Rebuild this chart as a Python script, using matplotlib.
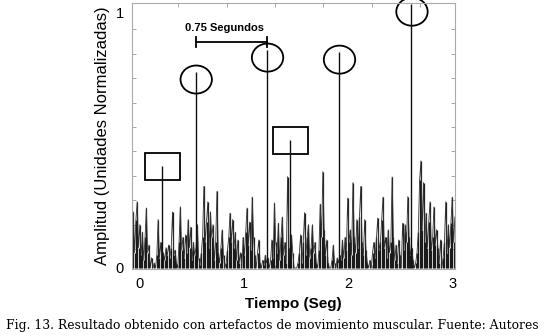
import numpy as np
import matplotlib
matplotlib.use('Agg')
import matplotlib.pyplot as plt
from matplotlib.patches import Ellipse, Rectangle

# muscle artefact noise, sampled every 0.0125 s starting at t0
t0 = -0.067
dt = 0.0125
noise = [
    0.04, 0.22, 0.06, 0.19, 0.26, 0.08, 0.17, 0.05, 0.14, 0.03,
    0.12, 0.235, 0.06, 0.09, 0.0, 0.04, 0.0, 0.02, 0.0, 0.05,
    0.19, 0.04, 0.10, 0.02, 0.06, 0.03, 0.08, 0.05, 0.09, 0.04,
    0.08, 0.22, 0.05, 0.07, 0.02, 0.0, 0.10, 0.24, 0.07, 0.12,
    0.04, 0.13, 0.06, 0.19, 0.08, 0.16, 0.03, 0.10, 0.05, 0.08,
    0.17, 0.04, 0.01, 0.06, 0.12, 0.32, 0.10, 0.18, 0.26, 0.08,
    0.22, 0.12, 0.17, 0.03, 0.10, 0.30, 0.06, 0.02, 0.08, 0.15,
    0.05, 0.0, 0.02, 0.07, 0.12, 0.215, 0.10, 0.19, 0.08, 0.14,
    0.03, 0.11, 0.02, 0.06, 0.0, 0.12, 0.05, 0.14, 0.235, 0.09,
    0.18, 0.07, 0.278, 0.12, 0.05, 0.0, 0.06, 0.11, 0.02, 0.0,
    0.03, 0.01, 0.05, 0.02, 0.04, 0.0, 0.03, 0.11, 0.04, 0.255,
    0.10, 0.06, 0.175, 0.03, 0.12, 0.20, 0.05, 0.10, 0.02, 0.358,
    0.08, 0.04, 0.13, 0.06, 0.0, 0.0, 0.0, 0.02, 0.06, 0.13,
    0.02, 0.10, 0.217, 0.05, 0.12, 0.17, 0.04, 0.08, 0.17, 0.06,
    0.10, 0.02, 0.0, 0.07, 0.25, 0.12, 0.378, 0.15, 0.05, 0.11,
    0.02, 0.0, 0.0, 0.03, 0.09, 0.02, 0.0, 0.04, 0.02, 0.05,
    0.03, 0.11, 0.04, 0.12, 0.07, 0.274, 0.10, 0.15, 0.05, 0.335,
    0.12, 0.06, 0.19, 0.08, 0.20, 0.32, 0.10, 0.05, 0.19, 0.07,
    0.02, 0.0, 0.03, 0.0, 0.06, 0.10, 0.04, 0.12, 0.196, 0.07,
    0.10, 0.19, 0.278, 0.08, 0.12, 0.04, 0.15, 0.06, 0.10, 0.357,
    0.12, 0.03, 0.09, 0.02, 0.11, 0.05, 0.0, 0.175, 0.07, 0.17,
    0.10, 0.28, 0.12, 0.05, 0.08, 0.03, 0.0, 0.02, 0.06, 0.14,
    0.345, 0.42, 0.15, 0.335, 0.10, 0.215, 0.08, 0.18, 0.26, 0.07,
    0.12, 0.24, 0.09, 0.15, 0.08, 0.02, 0.11, 0.0, 0.04, 0.10,
    0.26, 0.06, 0.17, 0.08, 0.175, 0.278, 0.10, 0.20,
]

# detected heart beats (circled) and the artefacts (boxed)
beat_t = [0.542, 1.224, 1.912, 2.605]
beat_amp = [0.769, 0.855, 0.847, 1.035]
artefact_t = [0.223, 1.444]
artefact_amp = [0.40, 0.502]

x_labels = ['0', '1', '2', '3']
y_labels = ['0', '1']

plt.rcParams['font.family'] = ['Liberation Sans', 'DejaVu Sans']

fig = plt.figure(figsize=(5.5, 3.36), dpi=100)
ax = fig.add_axes([0.24, 0.1994, 0.587, 0.7916])

t = t0 + dt * np.arange(len(noise))
# every sample drawn as a spike from the baseline, joined by a thin trace
ax.vlines(t, 0, noise, color='#1a1a1a', lw=0.9)
ax.plot(t, noise, color='#333333', lw=0.6)
ax.vlines(beat_t, 0, beat_amp, color='#111111', lw=1.0)
ax.vlines(artefact_t, 0, artefact_amp, color='#111111', lw=1.0)

# circles round the beats
for bt, ba in zip(beat_t, beat_amp):
    ax.add_patch(Ellipse((bt + 0.005, ba - 0.03), 0.30, 0.11, fill=False,
                         ec='black', lw=1.3, clip_on=False))

# boxes round the artefacts
for at, aa in zip(artefact_t, artefact_amp):
    ax.add_patch(Rectangle((at - 0.166, aa - 0.055), 0.335, 0.107,
                           fill=False, ec='black', lw=1.3))

# interval bracket between first two beats
yb = 0.886
ax.plot([beat_t[0], beat_t[1]], [yb, yb], color='black', lw=1.3)
ax.plot([beat_t[0], beat_t[0]], [yb - 0.02, yb + 0.02], color='black', lw=1.3)
ax.plot([beat_t[1], beat_t[1]], [yb - 0.02, yb + 0.02], color='black', lw=1.3)
ax.text(0.815, 0.94, '0.75 Segundos', ha='center',
        va='center', fontsize=8, fontweight='bold')

ax.set_xlim(-0.067, 3.02)
ax.set_ylim(-0.004, 1.039)

ax.set_xticks([0, 1, 2, 3])
ax.set_xticklabels(x_labels, fontsize=10.5)
ax.set_yticks([0, 1])
ax.set_yticklabels(y_labels, fontsize=10.5)
ax.set_xticks([0.373, 0.841, 1.300, 1.759, 2.228, 2.686], minor=True)
ax.set_yticks([0.075, 0.170, 0.266, 0.362, 0.457, 0.553, 0.648, 0.744,
               0.840, 0.936], minor=True)
ax.tick_params(which='major', length=0, pad=6)
ax.tick_params(which='minor', direction='in', length=3, color='#999999',
               top=True, right=True, bottom=True, left=True)

for side in ax.spines.values():
    side.set_color('#aaaaaa')
    side.set_linewidth(0.8)

ax.set_ylabel('Amplitud (Unidades Normalizadas)', fontsize=12, labelpad=4)
ax.set_xlabel('Tiempo (Seg)', fontsize=11, fontweight='bold', labelpad=4)

fig.text(0.495, 0.032,
         'Fig. 13. Resultado obtenido con artefactos de movimiento muscular. '
         'Fuente: Autores', ha='center', va='center', fontsize=8.9,
         family='DejaVu Serif')

fig.savefig('out.png', dpi=100)
